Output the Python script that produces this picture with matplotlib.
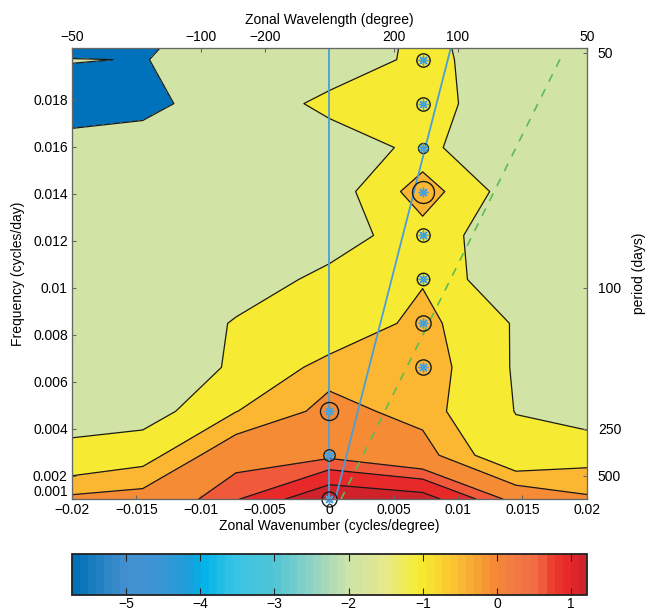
import numpy as np
import matplotlib.pyplot as plt
import matplotlib.transforms as mtransforms
from matplotlib.colors import LinearSegmentedColormap, Normalize
from matplotlib.cm import ScalarMappable

plt.rcParams['font.family'] = ['Liberation Sans', 'DejaVu Sans']
plt.rcParams['font.size'] = 10

# wavenumber-frequency grid (cycles/degree, cycles/day)
wavenumber = [-0.02175, -0.0145, -0.00725, 0.0, 0.00725, 0.0145, 0.02175]
frequency = [0.001, 0.00287, 0.00474, 0.00661, 0.00848, 0.01035,
             0.01222, 0.01409, 0.01596, 0.01783, 0.0197, 0.02157]

# log10 spectral power, one row per frequency
power = np.array([
    [0.05, 0.167, 0.64, 1.21, 1.08, 0.35, 0.02],
    [-0.81, -0.527, 0.323, 0.39, 0.16, -0.75, -0.48],
    [-1.37, -1.35, -0.36, 0.12, -0.12, -1.02, -1.61],
    [-1.5, -1.54, -0.9, -0.14, -0.02, -1.07, -1.6],
    [-1.5, -1.71, -0.93, -0.85, -0.16, -1.063, -1.6],
    [-1.5, -1.6, -1.41, -0.8, -0.4, -1.65, -1.6],
    [-1.5, -1.6, -1.5, -1.36, -0.6, -1.51, -1.6],
    [-1.45, -1.7, -1.5, -1.38, -0.03, -1.38, -1.6],
    [-1.39, -1.84, -1.5, -1.584, -0.746, -1.9, -1.6],
    [-3.0, -2.1, -1.8, -0.7, -0.7, -1.48, -1.6],
    [-1.85, -2.07, -1.1, -1.71, -0.726, -1.53, -1.6],
    [-5.7, -2.5, -1.5, -1.6, -0.85, -1.5, -1.6],
])

levels = [-6.0, -2.0, -1.0, -0.35, 0.0, 0.45, 0.66, 0.94, 1.3]
fill_colors = ['#0072bb', '#d1e4a5', '#f7ea33', '#fbb731',
               '#f58b35', '#f05a3a', '#e8292a', '#d0222a']

# spectral peaks and their ring sizes
peak_x = [0.0, 0.0, 0.0, 0.00725, 0.00725, 0.00725, 0.00725,
          0.00725, 0.00725, 0.00725, 0.00725]
peak_y = [0.001, 0.00287, 0.00474, 0.00661, 0.00848, 0.01035,
          0.01222, 0.01409, 0.01596, 0.01783, 0.0197]
peak_ring = [10.8, 8.2, 13.0, 11.0, 11.0, 9.0, 9.6, 15.8, 7.2, 9.6, 9.6]

# phase speeds of the reference rays (cycles/day per cycles/degree)
ray_solid = 2.14
ray_dashed = 1.1

wavelength_ticks = [-50, -100, -200, 200, 100, 50]
period_ticks = [50, 100, 250, 500]
freq_ticks = [0.001, 0.002, 0.004, 0.006, 0.008, 0.01, 0.012, 0.014, 0.016, 0.018]
freq_labels = ['0.001', '0.002', '0.004', '0.006', '0.008', '0.01',
               '0.012', '0.014', '0.016', '0.018']
wn_ticks = [-0.02, -0.015, -0.01, -0.005, 0, 0.005, 0.01, 0.015, 0.02]
wn_labels = ['\u22120.02', '\u22120.015', '\u22120.01', '\u22120.005', '0',
             '0.005', '0.01', '0.015', '0.02']

cbar_anchors = [
    (-5.73, '#0071b8'), (-5.3, '#2e86c6'), (-5.0, '#4590cf'), (-4.6, '#3d95d3'),
    (-4.2, '#1c9ed9'), (-4.0, '#00b2e8'), (-3.6, '#36c3e6'), (-3.0, '#52c5d4'),
    (-2.5, '#8ed3c5'), (-2.0, '#cde3a8'), (-1.5, '#e6e88e'), (-1.2, '#f2ec50'),
    (-1.0, '#f6eb2e'), (-0.6, '#f9c832'), (-0.3, '#f7a933'), (0.0, '#f48a33'),
    (0.3, '#f17a45'), (0.6, '#f06a44'), (0.8, '#ec3a2c'), (1.0, '#e8282a'),
    (1.21, '#d1232b'),
]
vmin, vmax = -5.73, 1.21

xlim = (-0.02, 0.02)
ylim = (0.001, 0.0202)
grey = '#666666'

fig = plt.figure(figsize=(6.6, 6.14), dpi=100)
ax = fig.add_axes([0.109, 0.187, 0.78, 0.735])

ax.contourf(wavenumber, frequency, power, levels=levels, colors=fill_colors)
ax.contour(wavenumber, frequency, power, levels=levels[1:-1],
           colors='#1a1a1a', linewidths=0.9, linestyles='solid',
           negative_linestyles='solid')

# reference rays
ax.plot([0, 0], ylim, color='#4a9fd8', lw=1.3, zorder=3)
ax.plot([0, ylim[1] / ray_solid], [0, ylim[1]], color='#4a9fd8', lw=1.3, zorder=3)
y0 = ylim[0] * 0.99
y1 = 0.01993
ax.plot([y0 / ray_dashed, y1 / ray_dashed], [y0, y1], color='#5dbb55',
        lw=1.2, ls=(0, (5, 5)), zorder=3)

# peaks: rings plus asterisks
for px, py, ring in zip(peak_x, peak_y, peak_ring):
    ax.plot(px, py, marker='o', ms=ring, mfc='none', mec='#1a1a1a', mew=1.0,
            zorder=4, clip_on=False)
ax.plot(peak_x, peak_y, ls='none', marker=(8, 2, 0), ms=7, mec='#45a0e0',
        mew=1.0, zorder=5, clip_on=False)

ax.set_xlim(xlim)
ax.set_ylim(ylim)
ax.set_xticks(wn_ticks)
ax.set_xticklabels(wn_labels)
ax.set_yticks(freq_ticks)
ax.set_yticklabels(freq_labels)
ax.set_xlabel('Zonal Wavenumber (cycles/degree)', labelpad=1)
ax.set_ylabel('Frequency (cycles/day)', labelpad=6)
ax.tick_params(direction='in', length=3, color=grey, pad=3)

# lift the lowest frequency label clear of the wavenumber labels
lift = mtransforms.ScaledTranslation(0, 6 / 72, fig.dpi_scale_trans)
ax.get_yticklabels()[0].set_transform(ax.get_yticklabels()[0].get_transform() + lift)

# wavelength axis on top
ax_top = ax.twiny()
ax_top.set_xlim(xlim)
ax_top.set_xticks([1.0 / w for w in wavelength_ticks])
ax_top.set_xticklabels([str(w).replace('-', '\u2212') for w in wavelength_ticks])
ax_top.set_xlabel('Zonal Wavelength (degree)', labelpad=4)
ax_top.tick_params(direction='in', length=3, color=grey, pad=3)

# period axis on the right
ax_right = ax.twinx()
ax_right.set_ylim(ylim)
ax_right.set_yticks([1.0 / p for p in period_ticks])
ax_right.set_yticklabels([str(p) for p in period_ticks])
ax_right.set_ylabel('period (days)', labelpad=8)
ax_right.tick_params(direction='in', length=3, color=grey, pad=8)

for a in (ax, ax_top, ax_right):
    for s in a.spines.values():
        s.set_color(grey)
        s.set_linewidth(0.8)

# stepped colour scale
stops = [((v - vmin) / (vmax - vmin), c) for v, c in cbar_anchors]
cmap = LinearSegmentedColormap.from_list('spec', stops, N=64)
cax = fig.add_axes([0.109, 0.031, 0.78, 0.066])
cb = fig.colorbar(ScalarMappable(norm=Normalize(vmin, vmax), cmap=cmap),
                  cax=cax, orientation='horizontal', ticks=[-5, -4, -3, -2, -1, 0, 1])
cb.ax.set_xticklabels(['\u22125', '\u22124', '\u22123', '\u22122', '\u22121', '0', '1'])
cb.ax.tick_params(direction='in', length=5, top=True, bottom=True, color='#222222', pad=1.5)
cb.outline.set_linewidth(1.3)
cb.outline.set_edgecolor('#222222')

fig.savefig('out.png', dpi=100)
